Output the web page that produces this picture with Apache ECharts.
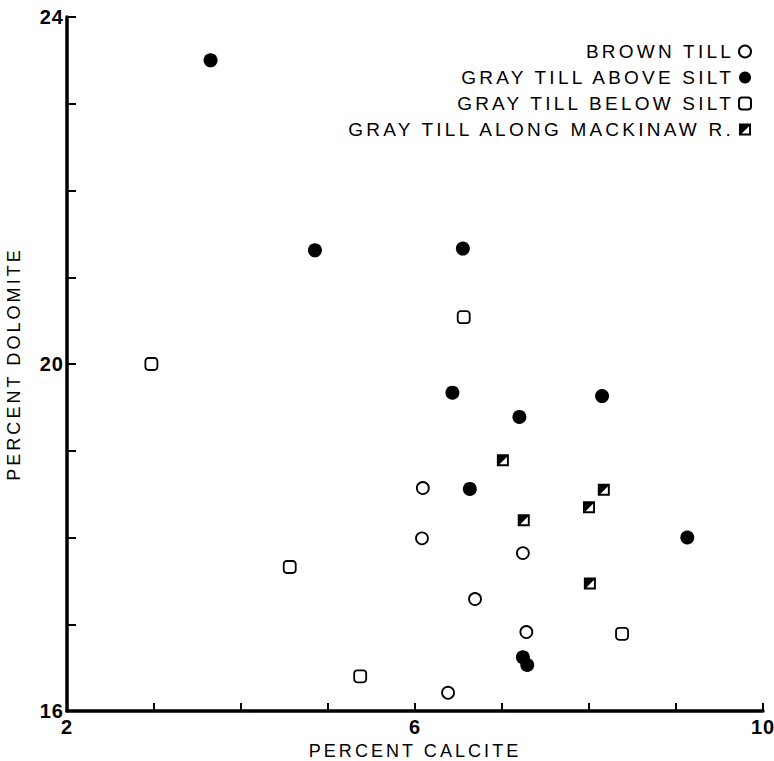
<!DOCTYPE html>
<html>
<head>
<meta charset="utf-8">
<title>Percent calcite vs percent dolomite</title>
<script src="https://cdn.jsdelivr.net/npm/echarts@6/dist/echarts.min.js"></script>
<style>
html, body { margin: 0; padding: 0; background: #fff; }
#main { width: 774px; height: 761px; }
/* the old typewriter style lettering is spaced out */
#main text { letter-spacing: 0.17em; }
#main text[style*="bold"] { letter-spacing: 0.05em; }
</style>
</head>
<body>
<div id="main"></div>
<script>
var seriesNames = ['BROWN TILL', 'GRAY TILL ABOVE SILT', 'GRAY TILL BELOW SILT', 'GRAY TILL ALONG MACKINAW R.'];

// [percent calcite, percent dolomite]
var brownTill = [[6.09, 18.57], [6.08, 17.99], [7.24, 17.82], [6.69, 17.29], [7.28, 16.91], [6.38, 16.21]];
var grayAbove = [[3.65, 23.5], [4.85, 21.31], [6.55, 21.33], [6.43, 19.67], [7.2, 19.39], [8.15, 19.63],
    [6.63, 18.56], [9.13, 18.0], [7.24, 16.62], [7.29, 16.53]];
var grayBelow = [[2.97, 20.0], [6.56, 20.54], [4.56, 17.66], [5.37, 16.4], [8.38, 16.89]];
var grayMackinaw = [[7.01, 18.89], [8.0, 18.35], [8.17, 18.55], [7.25, 18.2], [8.01, 17.47]];

var xTickLabels = [2, 6, 10];
var yTickLabels = [16, 20, 24];

// square outline with the upper left half filled
var halfSquare = 'path://M0 0L10 0L10 10L0 10Z M8.4 2.2L2.2 8.4L8.4 8.4Z';

var font = '"Liberation Sans", Arial, sans-serif';

var myChart = echarts.init(document.getElementById('main'), null, { renderer: 'svg' });

var option = {
    backgroundColor: '#fff',
    animation: false,
    grid: {
        left: 67,
        right: 11,
        top: 17,
        bottom: 50,
        containLabel: false,
        outerBoundsMode: 'none'
    },
    legend: {
        orient: 'vertical',
        right: 17,
        top: 37,
        align: 'right',
        itemWidth: 12,
        itemHeight: 12,
        itemGap: 7,
        selectedMode: false,
        textStyle: {
            color: '#000',
            fontFamily: font,
            fontSize: 19
        },
        data: seriesNames
    },
    xAxis: {
        type: 'value',
        min: 2,
        max: 10,
        interval: 1,
        name: 'PERCENT CALCITE',
        nameLocation: 'middle',
        nameGap: 27,
        nameTextStyle: { color: '#000', fontFamily: font, fontSize: 18 },
        splitLine: { show: false },
        axisLine: { lineStyle: { color: '#000', width: 3.5 } },
        axisTick: { inside: true, length: 8, lineStyle: { color: '#000', width: 2 } },
        axisLabel: {
            color: '#000',
            fontFamily: font,
            fontSize: 20,
            fontWeight: 'bold',
            margin: 6,
            formatter: function (v) {
                return xTickLabels.indexOf(v) > -1 ? String(v) : '';
            }
        }
    },
    yAxis: {
        type: 'value',
        min: 16,
        max: 24,
        interval: 1,
        name: 'PERCENT DOLOMITE',
        nameLocation: 'middle',
        nameGap: 44,
        nameTextStyle: { color: '#000', fontFamily: font, fontSize: 18 },
        splitLine: { show: false },
        axisLine: { lineStyle: { color: '#000', width: 3.5 } },
        axisTick: { inside: true, length: 9, lineStyle: { color: '#000', width: 2 } },
        axisLabel: {
            color: '#000',
            fontFamily: font,
            fontSize: 20,
            fontWeight: 'bold',
            margin: 3,
            formatter: function (v) {
                return yTickLabels.indexOf(v) > -1 ? String(v) : '';
            }
        }
    },
    series: [
        {
            name: seriesNames[0],
            type: 'scatter',
            symbol: 'circle',
            symbolSize: 12,
            itemStyle: { color: '#fff', borderColor: '#000', borderWidth: 1.8, opacity: 1 },
            data: brownTill
        },
        {
            name: seriesNames[1],
            type: 'scatter',
            symbol: 'circle',
            symbolSize: 14,
            itemStyle: { color: '#000', opacity: 1 },
            data: grayAbove
        },
        {
            name: seriesNames[2],
            type: 'scatter',
            symbol: 'roundRect',
            symbolSize: 12,
            itemStyle: { color: '#fff', borderColor: '#000', borderWidth: 1.8, opacity: 1 },
            data: grayBelow
        },
        {
            name: seriesNames[3],
            type: 'scatter',
            symbol: halfSquare,
            symbolSize: 12,
            itemStyle: { color: '#000', opacity: 1 },
            data: grayMackinaw
        }
    ]
};

myChart.setOption(option);
</script>
</body>
</html>
